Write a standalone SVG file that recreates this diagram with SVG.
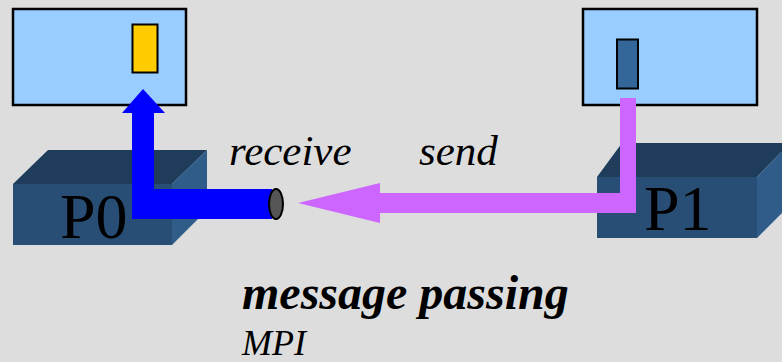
<svg xmlns="http://www.w3.org/2000/svg" width="782" height="362" viewBox="0 0 782 362">
  <style>
    .mem { fill: #99CCFF; stroke: #000; stroke-width: 2.5; }
    .front { fill: #284E75; }
    .top { fill: #1F3C5B; }
    .side { fill: #2F5C89; }
    text { font-family: 'Liberation Serif', 'Times New Roman', Times, serif; fill: #000; }
    .it { font-style: italic; }
  </style>
  <rect width="782" height="362" fill="#DDDDDD"/>

  <!-- processor P0 with its memory -->
  <g id="p0">
    <polygon class="top" points="13,184 48,150 207,150 172,184"/>
    <polygon class="side" points="172,184 207,150 207,210 172,245"/>
    <rect class="front" x="13" y="184" width="159" height="61"/>
    <text x="60" y="238" font-size="64">P0</text>
  </g>
  <g id="mem0">
    <rect class="mem" x="13" y="9" width="173" height="96"/>
    <rect x="132.5" y="24.5" width="25" height="48" fill="#FFCC00" stroke="#000" stroke-width="2"/>
  </g>

  <!-- processor P1 with its memory -->
  <g id="p1">
    <polygon class="top" points="597,177 622,143 790,143 757,177"/>
    <polygon class="side" points="757,177 790,143 790,205 757,238"/>
    <rect class="front" x="597" y="177" width="160" height="61"/>
    <text x="644" y="230" font-size="64">P1</text>
  </g>
  <g id="mem1">
    <rect class="mem" x="583" y="9" width="174" height="96"/>
    <rect x="617" y="39.5" width="21" height="49" fill="#336699" stroke="#000" stroke-width="2"/>
  </g>

  <!-- message path: send from P1, receive into P0 -->
  <g id="connectors">
    <path d="M620,98 H636 V213 H380 V193 H620 Z" fill="#CC66FF"/>
    <polygon points="380,183 298,203 380,223" fill="#CC66FF"/>
    <path d="M132,113 H154 V189 H272 V219 H132 Z" fill="#0000FF"/>
    <polygon points="122,113 143,89 165,113" fill="#0000FF"/>
    <ellipse cx="276" cy="204" rx="7" ry="15" fill="#555555" stroke="#000" stroke-width="2"/>
  </g>

  <g id="labels">
    <text class="it" x="229" y="165" font-size="43">receive</text>
    <text class="it" x="419" y="165" font-size="43">send</text>
    <text class="it" x="242" y="309" font-size="48" font-weight="bold">message passing</text>
    <text class="it" x="242" y="355" font-size="36">MPI</text>
  </g>
</svg>
